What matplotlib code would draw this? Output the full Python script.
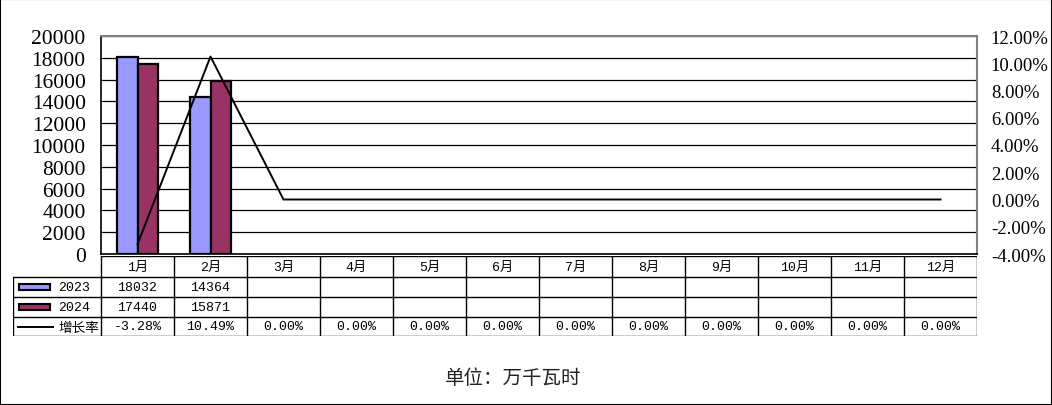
import numpy as np
import matplotlib.pyplot as plt
from matplotlib.patches import Rectangle
from matplotlib.lines import Line2D

months = ["1月", "2月", "3月", "4月", "5月", "6月", "7月", "8月", "9月", "10月", "11月", "12月"]
v2023 = [18032, 14364]
v2024 = [17440, 15871]
growth = [-3.28, 10.49, 0.00, 0.00, 0.00, 0.00, 0.00, 0.00, 0.00, 0.00, 0.00, 0.00]

c2023 = "#9999FF"
c2024 = "#993366"

plt.rcParams['font.family'] = ['Liberation Serif', 'Noto Sans CJK SC']
mono = ['Liberation Mono', 'Noto Sans CJK SC']

W, H = 1052, 406
fig = plt.figure(figsize=(W / 100, H / 100), dpi=100)
fig.patches.append(Rectangle((0, 0), 1, 1, transform=fig.transFigure, fill=False,
                             edgecolor="black", linewidth=1.5))

# ____plot area
left, right, top, bottom = 101, 977, 37, 255
ax = fig.add_axes([left / W, (H - bottom) / H, (right - left) / W, (bottom - top) / H])
x = np.arange(len(months))
bw = 0.28
ax.bar(x[:len(v2023)] - bw / 2, v2023, bw, color=c2023, edgecolor="black", linewidth=1.6, zorder=3)
ax.bar(x[:len(v2024)] + bw / 2, v2024, bw, color=c2024, edgecolor="black", linewidth=1.6, zorder=3)
ax.set_xlim(-0.5, len(months) - 0.5)
ax.set_ylim(0, 20000)
ax.set_yticks(np.arange(0, 20001, 2000))
ax.set_xticks([])
ax.tick_params(axis="y", length=0, labelsize=15.5, pad=11)
ax.yaxis.grid(True, color="black", linewidth=0.9, zorder=0)
ax.set_axisbelow(True)
for s in ["left", "bottom"]:
    ax.spines[s].set_color("black")
    ax.spines[s].set_linewidth(1.2)
for s in ["top", "right"]:
    ax.spines[s].set_color("#808080")
    ax.spines[s].set_linewidth(1.5)

ax2 = ax.twinx()
ax2.plot(x, growth, color="black", linewidth=1.4)
ax2.set_ylim(-4, 12)
ax2.set_yticks(np.arange(-4, 12.01, 2))
ax2.set_yticklabels(["%.2f%%" % t for t in np.arange(-4, 12.01, 2)])
ax2.tick_params(axis="y", length=0, labelsize=13.5, pad=10)
for s in ax2.spines.values():
    s.set_visible(False)

# ____data table below the chart
tl, tt, tb = 13, 257, 337
axt = fig.add_axes([tl / W, (H - tb) / H, (right - tl) / W, (tb - tt) / H])
axt.set_xlim(tl, right)
axt.set_ylim(tb, tt)
axt.axis("off")
rows = [257, 278, 298, 318, 337]
colw = (right - left) / len(months)
lk = dict(color="black", linewidth=1.0)
axt.plot([left, right], [rows[0], rows[0]], **lk)
for r in rows[1:]:
    axt.plot([tl, right], [r, r], **lk)
for i in range(len(months) + 1):
    cx = left + colw * i
    axt.plot([cx, cx], [rows[0], rows[-1]], **lk)
axt.plot([tl, tl], [rows[1], rows[-1]], **lk)

ts = 9.5
for i, m in enumerate(months):
    cx = left + colw * (i + 0.5)
    axt.text(cx, (rows[0] + rows[1]) / 2, m, ha="center", va="center", fontsize=ts, family=mono)
    if i < len(v2023):
        axt.text(cx, (rows[1] + rows[2]) / 2, str(v2023[i]), ha="center", va="center", fontsize=ts, family=mono)
    if i < len(v2024):
        axt.text(cx, (rows[2] + rows[3]) / 2, str(v2024[i]), ha="center", va="center", fontsize=ts, family=mono)
    axt.text(cx, (rows[3] + rows[4]) / 2, "%.2f%%" % growth[i], ha="center", va="center", fontsize=ts, family=mono)

# legend keys in the label column
for k, (lab, col) in enumerate([("2023", c2023), ("2024", c2024)]):
    yc = (rows[k + 1] + rows[k + 2]) / 2
    axt.add_patch(Rectangle((19, yc - 3), 31, 6, facecolor=col, edgecolor="black", linewidth=1.5))
    axt.text(58, yc, lab, ha="left", va="center", fontsize=ts, family=mono)
yc = (rows[3] + rows[4]) / 2
axt.add_line(Line2D([18, 53], [yc, yc], color="black", linewidth=1.4))
axt.text(58, yc, "增长率", ha="left", va="center", fontsize=9.8, family=mono)

fig.text(513 / W, 1 - 379 / H, "单位：万千瓦时", ha="center", va="center", fontsize=14,
         color="#222222", family=['Noto Sans CJK SC'])

fig.savefig("out.png", dpi=100)
